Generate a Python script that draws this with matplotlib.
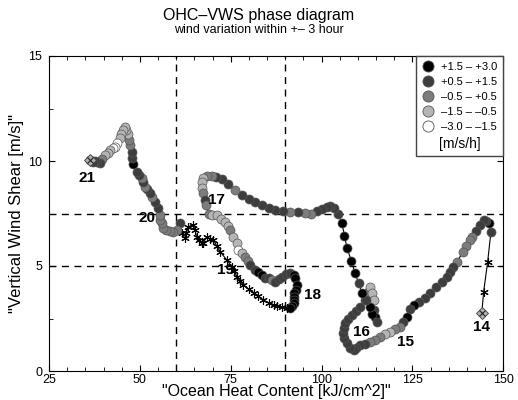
import matplotlib
matplotlib.use("Agg")
import matplotlib.pyplot as plt
from matplotlib.lines import Line2D

plt.rcParams['font.family'] = ['Liberation Sans', 'DejaVu Sans']

# class of each point: 0..4 = wind variation bins, 5 = no data (star)
ohc = [144.1, 144.6, 145.7, 146.6, 146.1, 145.3, 144.6, 143.5, 142.4, 141.5,
       140.9, 139.8, 138.8, 137.3, 136.2, 135.2, 134.5, 133.0, 131.5, 129.9,
       128.5, 126.8, 125.3, 124.3, 123.5, 122.5, 121.6, 120.2, 118.9, 117.5,
       116.1, 114.8, 113.4, 112.0, 110.6, 109.6, 108.8, 107.8, 107.0, 106.3,
       106.0, 106.2, 106.5, 107.3, 108.3, 109.5, 110.6, 112.0, 112.9, 113.4,
       113.9, 114.3, 114.3, 114.6, 115.2, 113.9, 113.4, 112.2, 111.1, 110.2,
       109.2, 108.2, 107.0, 106.3, 105.6, 104.5, 103.3, 102.4, 101.5, 100.2,
       98.7, 97.0, 95.5, 93.5, 91.4, 89.3, 87.2, 85.4, 83.6, 81.7,
       79.9, 78.0, 76.2, 74.3, 72.5, 71.0, 69.8, 68.5, 67.5, 67.0,
       67.2, 67.5, 67.8, 68.2, 68.9, 69.8, 71.2, 72.4, 73.5, 74.2,
       74.8, 75.6, 76.7, 77.1, 78.0, 79.0, 79.7, 80.3, 81.7, 82.6,
       83.6, 84.5, 85.4, 86.3, 87.2, 88.2, 89.1, 90.2, 91.4, 92.3,
       92.7, 93.2, 92.9, 92.5, 92.3, 92.4, 92.3, 91.9, 91.4,
       90.4, 89.0, 87.8, 86.8, 85.4, 84.0, 82.6, 81.3, 79.9, 78.5,
       77.5, 76.7, 76.0, 75.3, 73.9, 72.1, 71.2, 70.2, 69.3, 68.4,
       67.5, 67.0, 66.2, 65.6, 65.2, 64.7, 63.3, 62.8, 62.4, 61.5,
       61.1, 60.1, 59.2, 58.2, 57.3, 56.5, 56.0, 55.6, 55.6, 55.1,
       54.2, 53.3, 52.8, 51.9, 51.4, 50.8, 50.5, 49.8, 49.1, 48.0,
       47.9, 47.8, 47.4, 47.1, 46.8, 46.3, 45.9, 45.3, 44.9, 44.4,
       43.8, 43.2, 42.5, 41.8, 41.1, 40.4, 39.7, 39.0, 38.3, 37.6,
       37.0, 36.3]
vws = [2.78, 3.78, 5.20, 6.63, 7.06, 7.15, 7.19, 6.95, 6.68, 6.40,
       6.24, 5.95, 5.65, 5.20, 4.95, 4.70, 4.49, 4.25, 4.00, 3.70,
       3.50, 3.30, 3.14, 2.95, 2.59, 2.35, 2.11, 2.00, 1.87, 1.75,
       1.63, 1.50, 1.40, 1.30, 1.24, 1.10, 1.00, 1.10, 1.32, 1.55,
       1.80, 2.05, 2.27, 2.50, 2.67, 2.85, 3.06, 3.38, 3.78, 4.00,
       3.70, 3.38, 2.90, 2.55, 2.35, 2.70, 3.06, 3.40, 3.70, 4.20,
       4.65, 5.25, 5.84, 6.45, 7.03, 7.50, 7.75, 7.85, 7.80, 7.70,
       7.63, 7.50, 7.54, 7.55, 7.59, 7.62, 7.67, 7.75, 7.90, 8.05,
       8.20, 8.40, 8.62, 8.90, 9.13, 9.25, 9.29, 9.29, 9.20, 9.02,
       8.70, 8.46, 8.15, 7.90, 7.50, 7.45, 7.43, 7.25, 7.11, 6.90,
       6.71, 6.40, 6.08, 5.76, 5.60, 5.44, 5.25, 5.05, 4.81, 4.70,
       4.57, 4.45, 4.41, 4.35, 4.25, 4.40, 4.49, 4.60, 4.65, 4.55,
       4.41, 4.10, 3.86, 3.70, 3.54, 3.38, 3.22, 3.10, 2.99,
       2.99, 3.05, 3.10, 3.14, 3.25, 3.38, 3.55, 3.70, 3.90, 4.10,
       4.30, 4.49, 4.75, 4.97, 5.29, 5.68, 5.95, 6.24, 6.30, 6.40,
       6.10, 6.08, 6.25, 6.40, 6.70, 6.95, 6.87, 6.55, 6.32, 6.56,
       7.03, 6.70, 6.63, 6.65, 6.70, 6.79, 7.03, 7.19, 7.43, 7.75,
       8.06, 8.30, 8.46, 8.65, 8.78, 9.00, 9.17, 9.35, 9.49, 9.86,
       10.15, 10.44, 10.75, 11.00, 11.30, 11.50, 11.60, 11.50, 11.30, 11.08,
       10.85, 10.68, 10.60, 10.52, 10.40, 10.28, 10.10, 9.89, 9.95, 10.00,
       9.95, 10.05]
cls = [5, 5, 5, 1, 0, 1, 1, 1, 1, 2,
       2, 2, 2, 2, 1, 1, 1, 1, 1, 1,
       1, 1, 0, 1, 0, 1, 2, 2, 3, 3,
       2, 2, 2, 1, 1, 1, 1, 1, 1, 1,
       1, 1, 1, 1, 1, 1, 1, 1, 2, 3,
       3, 3, 1, 0, 1, 0, 0, 1, 0, 1,
       0, 0, 0, 0, 0, 1, 1, 1, 1, 1,
       1, 2, 2, 1, 2, 1, 1, 1, 1, 1,
       1, 1, 2, 1, 1, 1, 2, 2, 3, 3,
       3, 2, 1, 2, 2, 3, 3, 3, 3, 3,
       2, 3, 3, 4, 3, 2, 2, 1, 1, 0,
       0, 1, 1, 2, 1, 1, 1, 1, 1, 0,
       0, 0, 0, 0, 0, 0, 0, 0, 0,
       5, 5, 5, 5, 5, 5, 5, 5, 5, 5,
       5, 5, 5, 5, 5, 5, 5, 5, 5, 5,
       5, 5, 5, 5, 5, 5, 5, 5, 5, 5,
       1, 2, 2, 2, 2, 2, 2, 2, 2, 1,
       1, 2, 1, 1, 2, 1, 2, 1, 1, 0,
       1, 1, 2, 2, 3, 3, 3, 3, 3, 3,
       4, 4, 4, 3, 3, 3, 2, 1, 1, 1,
       1, 1]

bin_colors = ['#000000', '#3d3d3d', '#7c7c7c', '#b5b5b5', '#ffffff']
bin_labels = ['+1.5 \u2013 +3.0', '+0.5 \u2013 +1.5', '\u20130.5 \u2013 +0.5',
              '\u20131.5 \u2013 \u20130.5', '\u20133.0 \u2013 \u20131.5']

day_labels = ['14', '15', '16', '17', '18', '19', '20', '21']
day_x = [144.0, 123.0, 111.1, 71.2, 97.6, 73.5, 51.9, 35.4]
day_y = [2.1, 1.4, 1.87, 8.14, 3.62, 4.81, 7.27, 9.17]

fig = plt.figure(figsize=(5.18, 4.0), dpi=100)
ax = fig.add_axes([0.0946, 0.0725, 0.877, 0.7875])

ax.plot(ohc, vws, color='black', lw=0.8, zorder=2)
for x, y, c in zip(ohc, vws, cls):
    if c == 5:
        ax.plot(x, y, marker=(6, 2, 0), ms=6, color='black', mew=0.8, zorder=3)
    else:
        ax.plot(x, y, 'o', ms=6.5, mfc=bin_colors[c], mec='#555555', mew=0.5, zorder=3)

# start / end markers
for x, y in [(ohc[0], vws[0]), (ohc[-1], vws[-1])]:
    ax.plot(x, y, 'D', ms=6, mfc='#b0b0b0', mec='#404040', mew=0.6, zorder=4)
    ax.plot(x, y, 'x', ms=5, color='#202020', mew=0.8, zorder=5)

for lab, x, y in zip(day_labels, day_x, day_y):
    ax.text(x, y, lab, fontsize=11, fontweight='bold', ha='center', va='center', zorder=6)

for xv in [60, 90]:
    ax.axvline(xv, color='black', ls=(0, (5, 4)), lw=1, zorder=1)
for yv in [5, 7.5]:
    ax.axhline(yv, color='black', ls=(0, (5, 4)), lw=1, zorder=1)

ax.set_xlim(25, 150)
ax.set_ylim(0, 15)
ax.set_xticks([25, 50, 75, 100, 125, 150])
ax.set_yticks([0, 5, 10, 15])
ax.set_xticks(range(25, 151, 5), minor=True)
ax.set_yticks([2.5, 7.5, 12.5], minor=True)
ax.tick_params(which='both', direction='in', top=True, right=True, labelsize=9)
ax.tick_params(axis='x', pad=2)
ax.tick_params(axis='y', pad=5)
ax.tick_params(which='major', length=4)
ax.tick_params(which='minor', length=3)
ax.set_xlabel('"Ocean Heat Content [kJ/cm^2]"', fontsize=11.5, labelpad=-1)
ax.set_ylabel('"Vertical Wind Shear [m/s]"', fontsize=12, labelpad=3)

fig.text(0.5, 0.962, 'OHC\u2013VWS phase diagram', ha='center', va='center', fontsize=11.5)
fig.text(0.5, 0.925, 'wind variation within +\u2013 3 hour', ha='center', va='center', fontsize=9)

handles = [Line2D([], [], ls='none', marker='o', ms=8, mfc=c, mec='#555555', mew=0.6)
           for c in bin_colors]
leg = ax.legend(handles, bin_labels, loc='upper right', borderaxespad=0,
                fontsize=8, title='[m/s/h]', title_fontsize=10, fancybox=False,
                edgecolor='#444444', framealpha=1, handletextpad=0.6,
                handlelength=1.2, labelspacing=0.45, borderpad=0.5)
box = leg._legend_box
box._children = [box._children[1], box._children[0]]

fig.savefig('out.png', dpi=100)
